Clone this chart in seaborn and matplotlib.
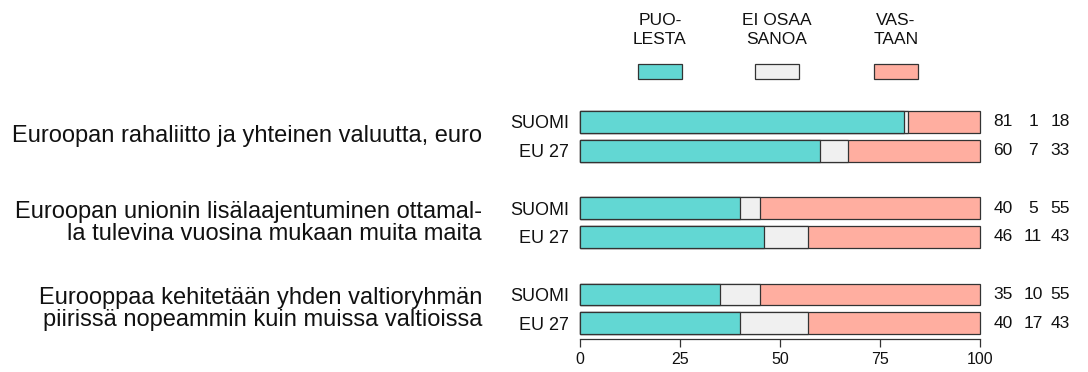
import matplotlib
matplotlib.use("Agg")
import matplotlib.pyplot as plt
from matplotlib.patches import Rectangle
from matplotlib.transforms import blended_transform_factory
import seaborn as sns
import pandas as pd
import numpy as np

# Survey results (%): in favour / don't know / against
topics = [
    "Euroopan rahaliitto ja yhteinen valuutta, euro",
    "Euroopan unionin lisälaajentuminen ottamal-\nla tulevina vuosina mukaan muita maita",
    "Eurooppaa kehitetään yhden valtioryhmän\npiirissä nopeammin kuin muissa valtioissa",
]
regions = ["SUOMI", "EU 27"]
puolesta = [81, 60, 40, 46, 35, 40]
ei_osaa = [1, 7, 5, 11, 10, 17]
vastaan = [18, 33, 55, 43, 55, 43]
legend_labels = ["PUO-\nLESTA", "EI OSAA\nSANOA", "VAS-\nTAAN"]
x_ticks = [0, 25, 50, 75, 100]

colors = ["#62d7d3", "#f0f0f0", "#ffaea0"]
edge = "#333333"
text_color = "#111111"

sns.set_theme(style="white")
plt.rcParams["font.family"] = ["Liberation Sans", "DejaVu Sans"]

# row positions: two rows per topic, with a gap between topics
ypos = []
for g in range(len(topics)):
    ypos += [g * 3, g * 3 + 1]

df = pd.DataFrame({
    "y": ypos,
    "p": puolesta,
    "pe": np.array(puolesta) + np.array(ei_osaa),
    "tot": np.array(puolesta) + np.array(ei_osaa) + np.array(vastaan),
})

fig = plt.figure(figsize=(10.88, 3.72), dpi=100)
ax = fig.add_axes([580 / 1088, 1 - 339 / 372, 400 / 1088, (339 - 107.6) / 372])

# stacked bars drawn as overlapping cumulative totals
for col, c in zip(["tot", "pe", "p"], colors[::-1]):
    sns.barplot(data=df, x=col, y="y", orient="h", native_scale=True,
                color=c, saturation=1, width=0.76, edgecolor=edge,
                linewidth=0.9, ax=ax, errorbar=None)

for p in ax.patches:
    p.set_clip_on(False)

ax.set_xlim(0, 100)
ax.set_ylim(7.55, -0.5)
ax.set_xticks(x_ticks)
ax.set_xticklabels([str(t) for t in x_ticks], fontsize=11.5, color=text_color)
ax.set_yticks(ypos)
ax.set_yticklabels(regions * len(topics), fontsize=13, color=text_color)
ax.tick_params(axis="y", length=0, pad=8)
ax.tick_params(axis="x", length=6, width=0.9, color=edge, pad=3,
               bottom=True, direction="out")
ax.set_xlabel("")
ax.set_ylabel("")
for s in ["top", "right", "left"]:
    ax.spines[s].set_visible(False)
ax.spines["bottom"].set_color(edge)
ax.spines["bottom"].set_linewidth(0.9)

# values to the right of each bar
for y, a, b, c in zip(ypos, puolesta, ei_osaa, vastaan):
    for xv, v in zip([105.75, 113.25, 120.0], [a, b, c]):
        ax.text(xv, y, str(v), ha="center", va="center", fontsize=12.5,
                color=text_color, clip_on=False)

# topic descriptions on the left
left_tf = blended_transform_factory(fig.transFigure, ax.transData)
for g, t in enumerate(topics):
    ax.text(482 / 1088, g * 3 + 0.5, t, transform=left_tf, fontsize=17,
            ha="right", va="center", color=text_color, linespacing=1.0)

# legend: labels above coloured boxes
for cx, lab, c in zip([660, 777, 896], legend_labels, colors):
    fig.text(cx / 1088, 1 - 30 / 372, lab, ha="center", va="center",
             fontsize=12.5, color=text_color, linespacing=1.4)
    fig.patches.append(Rectangle(((cx - 22) / 1088, 1 - 79 / 372), 44 / 1088, 15 / 372,
                                 transform=fig.transFigure, facecolor=c,
                                 edgecolor=edge, linewidth=0.9))

fig.savefig("out.png", dpi=100)
